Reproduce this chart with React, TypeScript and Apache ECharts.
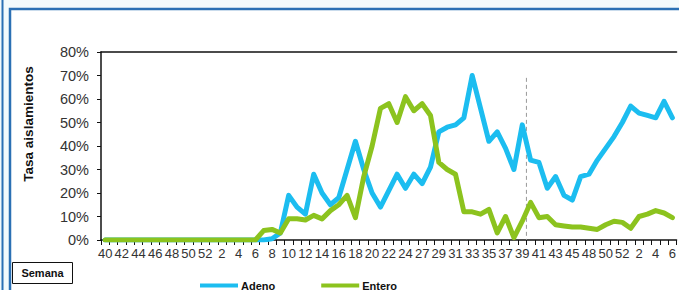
import React, { useEffect, useRef } from "react";
import * as echarts from "echarts";

const weeks = [
  "40","41","42","43","44","45","46","47","48","49","50","51","52",
  "1","2","3","4","5","6","7","8","9","10","11","12","13","14","15","16","17","18","19","20","21","22","23","24","25",
  "27","28","29","30","31","32","33","34","35","36","37","38","39","40","41","42","43","44","45",
  "47","48","49","50","51","52","1","2","3","4","5","6",
];

const adeno = [
  0,0,0,0,0,0,0,0,0,0,0,0,0,
  0,0,0,0,0,0,0,0.5,3,19,14,11,28,20,15,18,30,42,30,20,14,21,28,22,28,
  24,31,46,48,49,52,70,56,42,46,39,30,49,34,33,22,27,19,17,
  27,28,34,39,44,50,57,54,53,52,59,52,
];

const entero = [
  0,0,0,0,0,0,0,0,0,0,0,0,0,
  0,0,0,0,0,0,4,4.5,3,9,9,8.5,10.5,9,12.5,15,19,9.5,27,40,56,58,50,61,55,
  58,53,33,30,28,12,12,11,13,3,10,1,8,16,9.5,10,6.5,6,5.5,
  5.5,5,4.5,6.5,8,7.5,5,10,11,12.5,11.5,9.5,
];

const yTicks = { min: 0, max: 80, interval: 10 };
const seasonBreak = { from: 50, to: 51, top: 69 };

const BLUE = "#1cbdf0";
const GREEN = "#8cc31e";
const FONT = "'Liberation Sans', Arial, sans-serif";

export default function App() {
  const ref = useRef<HTMLDivElement>(null);

  useEffect(() => {
    if (!ref.current) return;
    const chart = echarts.init(ref.current, undefined, { renderer: "svg" });

    const baseGraphics: any[] = [
      { type: "rect", id: "bg", z: -10, shape: { x: 0, y: 0, width: 679, height: 290 }, style: { fill: "#f3fafc" }, silent: true },
      { type: "rect", id: "frame", z: -9, shape: { x: 10, y: 9, width: 700, height: 300 }, style: { fill: "#ffffff", stroke: "#2b70b4", lineWidth: 2.5 }, silent: true },
      { type: "line", id: "leftbar", z: -9, shape: { x1: 2.5, y1: 0, x2: 2.5, y2: 290 }, style: { stroke: "#2b70b4", lineWidth: 2 }, silent: true },
      {
        type: "text", id: "ytitle", x: 28, y: 124, rotation: Math.PI / 2,
        style: { text: "Tasa aislamientos", fontFamily: FONT, fontSize: 13.5, fontWeight: "bold", fill: "#111", align: "center", verticalAlign: "middle" },
      },
      { type: "rect", id: "semanaBox", shape: { x: 12.5, y: 262.5, width: 60, height: 21 }, style: { fill: "#fff", stroke: "#111", lineWidth: 1 } },
      {
        type: "text", id: "semana", x: 42.5, y: 273,
        style: { text: "Semana", fontFamily: FONT, fontSize: 11, fontWeight: "bold", fill: "#111", align: "center", verticalAlign: "middle" },
      },
    ];

    const option: any = {
      animation: false,
      grid: { left: 101, right: 0, top: 52, bottom: 50 },
      legend: {
        left: 195, top: 275, itemWidth: 38, itemHeight: 4, itemGap: 46,
        icon: "rect",
        textStyle: { fontFamily: FONT, fontSize: 11, fontWeight: "bold", color: "#111", padding: [0, 0, 0, -2] },
        data: ["Adeno", "Entero"],
      },
      xAxis: [
        {
          type: "category", data: weeks, boundaryGap: true,
          axisLine: { lineStyle: { color: "#111", width: 1.5 } },
          axisTick: { show: true, interval: 0, length: 5, lineStyle: { color: "#111" } },
          axisLabel: { interval: 1, margin: 7, fontFamily: FONT, fontSize: 13, color: "#333" },
        },
        {
          type: "category", data: weeks, position: "top", boundaryGap: true,
          axisLine: { show: true, lineStyle: { color: "#111", width: 1.5 } },
          axisTick: { show: false }, axisLabel: { show: false },
        },
      ],
      yAxis: {
        type: "value", ...yTicks,
        axisLine: { show: true, lineStyle: { color: "#111", width: 1.5 } },
        axisTick: { show: true, length: 4, lineStyle: { color: "#111" } },
        splitLine: { show: false },
        axisLabel: { formatter: "{value}%", margin: 12, fontFamily: FONT, fontSize: 14.5, color: "#333" },
      },
      series: [
        {
          name: "Adeno", type: "line", data: adeno, symbol: "none", color: BLUE,
          lineStyle: { width: 5, color: BLUE, cap: "round", join: "round" }, z: 3,
        },
        {
          name: "Entero", type: "line", data: entero, symbol: "none", color: GREEN,
          lineStyle: { width: 5, color: GREEN, cap: "round", join: "round" }, z: 4,
        },
      ],
      graphic: baseGraphics,
    };

    chart.setOption(option);

    const xa = chart.convertToPixel({ xAxisIndex: 0 }, seasonBreak.from) as number;
    const xb = chart.convertToPixel({ xAxisIndex: 0 }, seasonBreak.to) as number;
    const yTop = chart.convertToPixel({ yAxisIndex: 0 }, seasonBreak.top) as number;
    const yBot = chart.convertToPixel({ yAxisIndex: 0 }, 0) as number;
    const xm = (xa + xb) / 2;

    chart.setOption({
      graphic: [
        ...baseGraphics,
        {
          type: "line", id: "season", z: 1,
          shape: { x1: xm, y1: yTop, x2: xm, y2: yBot },
          style: { stroke: "#999", lineWidth: 1, lineDash: [4, 3] }, silent: true,
        },
      ],
    });

    return () => chart.dispose();
  }, []);

  return (
    <div style={{ position: "absolute", left: 0, top: 0, width: 679, height: 290, overflow: "hidden" }}>
      <div ref={ref} style={{ width: 679, height: 290 }} />
    </div>
  );
}
